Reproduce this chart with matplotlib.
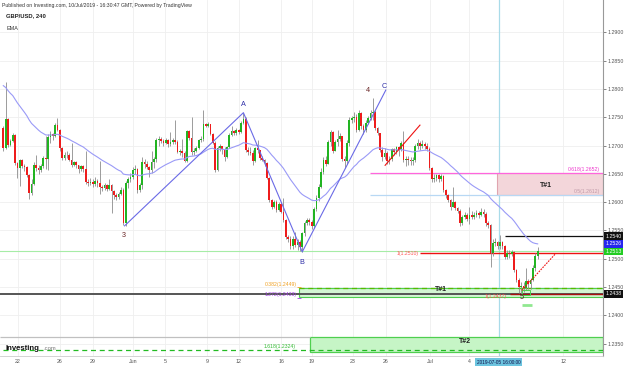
import numpy as np
import matplotlib
matplotlib.use("Agg")
import matplotlib.pyplot as plt
from matplotlib.patches import Rectangle

plt.rcParams['font.family'] = ['Liberation Sans', 'DejaVu Sans']

# ---------------- data ----------------
open0 = 1.2731
closes = [
    1.2696, 1.2746, 1.2701, 1.2708, 1.2719, 1.2669, 1.2660, 1.2674, 1.2664, 1.2662,
    1.2648, 1.2616, 1.2632, 1.2666, 1.2660, 1.2656, 1.2664, 1.2678, 1.2676, 1.2715,
    1.2720, 1.2716, 1.2736, 1.2728, 1.2695, 1.2678, 1.2684, 1.2683, 1.2675, 1.2666,
    1.2670, 1.2665, 1.2658, 1.2663, 1.2658, 1.2636, 1.2634, 1.2636, 1.2632, 1.2638, 1.2633, 1.2627, 1.2625,
    1.2630, 1.2624, 1.2631, 1.2620, 1.2612, 1.2609, 1.2614, 1.2622, 1.2563, 1.2634,
    1.2640, 1.2645, 1.2656, 1.2658, 1.2621, 1.2630, 1.2671, 1.2668, 1.2662, 1.2657,
    1.2670, 1.2676, 1.2710, 1.2712, 1.2708, 1.2705, 1.2709, 1.2702, 1.2706, 1.2710, 1.2706, 1.2689,
    1.2690, 1.2686, 1.2672, 1.2725, 1.2714, 1.2688, 1.2690, 1.2696, 1.2709, 1.2712,
    1.2738, 1.2735, 1.2738, 1.2720, 1.2705, 1.2657, 1.2696, 1.2699, 1.2693, 1.2680,
    1.2697, 1.2718, 1.2725, 1.2722, 1.2728, 1.2724, 1.2740, 1.2747, 1.2692, 1.2688,
    1.2687, 1.2672, 1.2696, 1.2692, 1.2678, 1.2675, 1.2669, 1.2643,
    1.2604, 1.2592, 1.2601, 1.2586, 1.2597, 1.2582, 1.2568, 1.2538, 1.2535, 1.2522,
    1.2535, 1.2524, 1.2530, 1.2520, 1.2545, 1.2563, 1.2568, 1.2565, 1.2557, 1.2588,
    1.2607, 1.2627, 1.2653, 1.2675, 1.2668, 1.2706, 1.2724, 1.2690, 1.2706,
    1.2712, 1.2717, 1.2676, 1.2672, 1.2705, 1.2745, 1.2748, 1.2750, 1.2728, 1.2757,
    1.2735, 1.2728, 1.2740, 1.2748, 1.2757, 1.2760, 1.2731, 1.2722, 1.2692, 1.2680,
    1.2687, 1.2672, 1.2676, 1.2693, 1.2688, 1.2697, 1.2692, 1.2704, 1.2674, 1.2677,
    1.2674, 1.2673, 1.2675, 1.2699, 1.2704, 1.2700, 1.2703, 1.2700, 1.2694,
    1.2660, 1.2640, 1.2643, 1.2647, 1.2641, 1.2646, 1.2622, 1.2612, 1.2604, 1.2591,
    1.2600, 1.2590, 1.2585, 1.2563, 1.2573, 1.2578, 1.2570, 1.2578, 1.2573, 1.2577,
    1.2580, 1.2578, 1.2582, 1.2579, 1.2563, 1.2559, 1.2510, 1.2527, 1.2530,
    1.2522, 1.2530, 1.2522, 1.2503, 1.2510, 1.2508, 1.2511, 1.2480, 1.2463,
    1.2450, 1.2452, 1.2448, 1.2460, 1.2455, 1.2462, 1.2484, 1.2505, 1.2513,
]
highs = [
    1.2735, 1.2812, 1.2748, 1.2712, 1.2722, 1.2721, 1.2670, 1.2676, 1.2676, 1.2668,
    1.2664, 1.2650, 1.2640, 1.2670, 1.2683, 1.2665, 1.2667, 1.2681, 1.2716, 1.2720,
    1.2725, 1.2722, 1.2740, 1.2749, 1.2730, 1.2697, 1.2688, 1.2690, 1.2686, 1.2705,
    1.2673, 1.2672, 1.2664, 1.2666, 1.2666, 1.2690, 1.2640, 1.2642, 1.2640, 1.2645, 1.2641, 1.2672, 1.2630,
    1.2633, 1.2632, 1.2640, 1.2632, 1.2622, 1.2616, 1.2618, 1.2626, 1.2625, 1.2637,
    1.2645, 1.2652, 1.2662, 1.2665, 1.2660, 1.2634, 1.2680, 1.2676, 1.2672, 1.2664,
    1.2690, 1.2680, 1.2714, 1.2716, 1.2715, 1.2712, 1.2714, 1.2712, 1.2724, 1.2713, 1.2745, 1.2710,
    1.2694, 1.2712, 1.2690, 1.2728, 1.2727, 1.2750, 1.2695, 1.2700, 1.2712, 1.2716,
    1.2762, 1.2740, 1.2742, 1.2738, 1.2722, 1.2708, 1.2700, 1.2702, 1.2700, 1.2698,
    1.2700, 1.2722, 1.2735, 1.2728, 1.2731, 1.2730, 1.2743, 1.2758, 1.2750, 1.2697,
    1.2697, 1.2692, 1.2698, 1.2710, 1.2692, 1.2682, 1.2676, 1.2670,
    1.2645, 1.2606, 1.2604, 1.2604, 1.2600, 1.2600, 1.2607, 1.2570, 1.2542, 1.2540,
    1.2540, 1.2548, 1.2535, 1.2533, 1.2548, 1.2566, 1.2572, 1.2572, 1.2568, 1.2592,
    1.2612, 1.2632, 1.2660, 1.2680, 1.2682, 1.2710, 1.2728, 1.2726, 1.2710,
    1.2727, 1.2722, 1.2712, 1.2682, 1.2710, 1.2750, 1.2752, 1.2760, 1.2756, 1.2762,
    1.2760, 1.2738, 1.2745, 1.2752, 1.2762, 1.2784, 1.2762, 1.2733, 1.2722, 1.2698,
    1.2695, 1.2690, 1.2682, 1.2696, 1.2696, 1.2700, 1.2700, 1.2708, 1.2725, 1.2682,
    1.2681, 1.2680, 1.2680, 1.2703, 1.2712, 1.2708, 1.2710, 1.2706, 1.2704,
    1.2697, 1.2662, 1.2650, 1.2650, 1.2650, 1.2650, 1.2648, 1.2624, 1.2614, 1.2606,
    1.2626, 1.2602, 1.2592, 1.2588, 1.2577, 1.2583, 1.2580, 1.2592, 1.2584, 1.2583,
    1.2586, 1.2584, 1.2590, 1.2588, 1.2582, 1.2566, 1.2562, 1.2535, 1.2536,
    1.2532, 1.2542, 1.2532, 1.2524, 1.2516, 1.2515, 1.2516, 1.2513, 1.2482,
    1.2466, 1.2458, 1.2458, 1.2484, 1.2465, 1.2466, 1.2488, 1.2510, 1.2521,
]
lows = [
    1.2690, 1.2694, 1.2698, 1.2700, 1.2706, 1.2666, 1.2643, 1.2628, 1.2660, 1.2655,
    1.2645, 1.2606, 1.2612, 1.2630, 1.2655, 1.2650, 1.2654, 1.2660, 1.2658, 1.2656,
    1.2705, 1.2710, 1.2715, 1.2725, 1.2690, 1.2674, 1.2675, 1.2678, 1.2672, 1.2662,
    1.2663, 1.2660, 1.2652, 1.2655, 1.2654, 1.2632, 1.2628, 1.2630, 1.2626, 1.2628, 1.2627, 1.2615, 1.2620,
    1.2622, 1.2620, 1.2622, 1.2580, 1.2606, 1.2604, 1.2605, 1.2612, 1.2559, 1.2558,
    1.2625, 1.2636, 1.2640, 1.2650, 1.2616, 1.2618, 1.2624, 1.2660, 1.2658, 1.2645,
    1.2652, 1.2660, 1.2670, 1.2700, 1.2704, 1.2700, 1.2702, 1.2698, 1.2700, 1.2702, 1.2702, 1.2686,
    1.2684, 1.2680, 1.2670, 1.2670, 1.2710, 1.2684, 1.2684, 1.2688, 1.2694, 1.2706,
    1.2708, 1.2732, 1.2733, 1.2718, 1.2702, 1.2654, 1.2655, 1.2690, 1.2685, 1.2672,
    1.2678, 1.2695, 1.2716, 1.2718, 1.2719, 1.2720, 1.2722, 1.2738, 1.2688, 1.2684,
    1.2683, 1.2666, 1.2670, 1.2686, 1.2675, 1.2672, 1.2664, 1.2640,
    1.2600, 1.2588, 1.2590, 1.2582, 1.2585, 1.2580, 1.2565, 1.2535, 1.2530, 1.2518,
    1.2518, 1.2520, 1.2516, 1.2514, 1.2512, 1.2540, 1.2560, 1.2560, 1.2553, 1.2554,
    1.2585, 1.2602, 1.2625, 1.2650, 1.2664, 1.2668, 1.2700, 1.2686, 1.2690,
    1.2700, 1.2708, 1.2672, 1.2660, 1.2668, 1.2700, 1.2740, 1.2742, 1.2724, 1.2725,
    1.2730, 1.2720, 1.2724, 1.2738, 1.2745, 1.2745, 1.2728, 1.2718, 1.2688, 1.2672,
    1.2676, 1.2668, 1.2668, 1.2672, 1.2683, 1.2685, 1.2682, 1.2690, 1.2670, 1.2664,
    1.2666, 1.2666, 1.2665, 1.2670, 1.2694, 1.2692, 1.2696, 1.2694, 1.2690,
    1.2656, 1.2636, 1.2636, 1.2638, 1.2636, 1.2638, 1.2618, 1.2608, 1.2600, 1.2586,
    1.2592, 1.2586, 1.2580, 1.2558, 1.2560, 1.2570, 1.2566, 1.2562, 1.2570, 1.2570,
    1.2574, 1.2572, 1.2576, 1.2574, 1.2558, 1.2555, 1.2485, 1.2505, 1.2522,
    1.2518, 1.2518, 1.2518, 1.2500, 1.2500, 1.2502, 1.2504, 1.2476, 1.2458,
    1.2440, 1.2437, 1.2442, 1.2444, 1.2446, 1.2446, 1.2460, 1.2478, 1.2500,
]
ema_seed = 1.2812
ema_length = 36

price_ticks = [1.2350, 1.2400, 1.2450, 1.2500, 1.2550, 1.2600, 1.2650,
               1.2700, 1.2750, 1.2800, 1.2850, 1.2900]
date_labels = ["22", "26", "29", "Jun", "5", "9", "12", "16", "19", "23",
               "26", "Jul", "4", "12"]
date_pos = [6.2, 24.1, 38.1, 55.1, 68.7, 86.5, 100.1, 118.0, 131.1, 148.6,
            162.6, 181.3, 198.0, 237.8]

wave_idx = [51.5, 102, 127, 162.5]
wave_price = [1.2558, 1.2758, 1.2512, 1.2798]

fib_618 = 1.2652
fib_500 = 1.2612
fib_382 = 1.2449
fib_1272 = 1.2433
fib_1618 = 1.2339
ext_1a = 1.2510
ext_1b = 1.2437
level_black = 1.2540
level_low = 1.2438
last_price = 1.2513
ema_last = 1.2526

# ---------------- figure ----------------
W, H = 625, 367
fig = plt.figure(figsize=(W / 100, H / 100), dpi=100)
ax = fig.add_axes([0, 11 / H, 603 / W, 356 / H])

px_per_unit = 5660.0
y_top = 1.29 + 32.3 / px_per_unit
y_bot = 1.29 - (356 - 32.3) / px_per_unit
x_left = -3.3 / 2.354
x_right = (603 - 3.3) / 2.354
ax.set_xlim(x_left, x_right)
ax.set_ylim(y_bot, y_top)

# grid
for p in price_ticks:
    ax.axhline(p, color="#efefef", lw=0.6, zorder=0)
for d in date_pos:
    ax.axvline(d, color="#efefef", lw=0.6, zorder=0)

n = len(closes)
idx = np.arange(n)
c = np.array(closes)
o = np.array([open0] + closes[:-1])
h = np.maximum(np.array(highs), np.maximum(o, c))
l = np.minimum(np.array(lows), np.minimum(o, c))

# EMA
alpha = 2.0 / (ema_length + 1)
ema = []
e = ema_seed
for v in closes:
    e = e + alpha * (v - e)
    ema.append(e)

# vertical cursor line
cursor_idx = 210.6
ax.axvline(cursor_idx, color="#a9dbe9", lw=0.9, zorder=1)

# zones
ax.add_patch(Rectangle((209.7, fib_500), x_right - 209.7, fib_618 - fib_500,
                       facecolor="#f3d6da", edgecolor="#e0a5b0", lw=0.8, zorder=1))
ax.add_patch(Rectangle((125.6, fib_1272 - 0.0001), x_right - 125.6, fib_382 - fib_1272 + 0.0001,
                       facecolor="#d3f5d3", edgecolor="#4fcf4f", lw=0.8, zorder=1))
ax.add_patch(Rectangle((130.3, 1.2335), x_right - 130.3, 1.2362 - 1.2335,
                       facecolor="#c6f5c6", edgecolor="#4fcf4f", lw=0.9, zorder=1))
ax.add_patch(Rectangle((220.3, 1.2436), 3.4, 0.0009,
                       facecolor="none", edgecolor="#4fcf4f", lw=0.7, zorder=6))

# horizontal levels
ax.hlines(fib_618, 155.8, x_right, color="#ff66dd", lw=0.9, zorder=2)
ax.hlines(fib_500, 155.8, x_right, color="#b8d8f4", lw=0.9, zorder=2)
ax.axhline(last_price, color="#a6eca6", lw=0.8, zorder=2)
ax.hlines(ext_1a, 177, x_right, color="#ee1111", lw=1.0, zorder=3)
ax.hlines(level_black, 213.1, x_right, color="#111111", lw=0.9, zorder=3)
ax.axhline(level_low, color="#555555", lw=1.4, zorder=2)
ax.hlines(ext_1b, 215.2, x_right, color="#aa1111", lw=1.0, zorder=3)
ax.hlines(fib_382, 125.6, x_right, color="#55bb00", lw=0.9, ls=(0, (4, 3)), zorder=3)
ax.hlines(fib_1618, 0, x_right, color="#22bb22", lw=0.9, ls=(0, (4, 3)), zorder=3)
ax.hlines(1.2362, x_left, 130.3, color="#c0c0c0", lw=0.9, zorder=2)
ax.hlines(1.2418, 220.3, 224.6, color="#90e890", lw=2.0, zorder=3)

# candles
up = c >= o
wick_col = "#8c8c8c"
ax.vlines(idx, l, h, color=wick_col, lw=0.6, zorder=4)
body_h = np.where(np.abs(c - o) < 0.00006, 0.00006, np.abs(c - o))
body_b = np.minimum(o, c)
ax.bar(idx[up], body_h[up], bottom=body_b[up], width=0.72,
       color="#22b422", linewidth=0, zorder=5)
ax.bar(idx[~up], body_h[~up], bottom=body_b[~up], width=0.72,
       color="#ee1c1c", linewidth=0, zorder=5)

# EMA line
ax.plot(idx, ema, color="#9a9af7", lw=0.8, zorder=6)

# wave lines
ax.plot(wave_idx, wave_price, color="#6a6ae6", lw=0.8, zorder=7)
ax.plot([162.2, 177], [1.2665, 1.2736], color="#ee1111", lw=0.8, zorder=7)
ax.plot([220.3, 234.4], [1.2444, 1.2508], color="#ee1111", lw=0.8,
        ls=(0, (1.5, 1)), zorder=7)

# wave labels
lab_kw = dict(fontsize=5.2, ha="center", va="center", zorder=8)
ax.text(51.3, 1.2541, "3", color="#6b2626", **lab_kw)
ax.text(101.8, 1.2772, "A", color="#2e2ea8", **lab_kw)
ax.text(126.9, 1.2494, "B", color="#2e2ea8", **lab_kw)
ax.text(154.9, 1.2798, "4", color="#6b2626", **lab_kw)
ax.text(161.8, 1.2805, "C", color="#2e2ea8", **lab_kw)
ax.text(220.3, 1.2431, "5", color="#4a1818", **lab_kw)

# level text labels
small = dict(fontsize=3.7, zorder=8)
ax.text(253.5, fib_618 + 0.0001, "0.618(1.2652)", color="#ee33cc", ha="right", va="bottom", **small)
ax.text(253.5, fib_500 + 0.0002, "0.5(1.2612)", color="#c09aa8", ha="right", va="bottom", **small)
ax.text(230.5, 1.2630, "T#1", color="#222222", ha="center", va="center",
        fontsize=5, fontweight="bold", zorder=8)
ax.text(176.6, ext_1a, "1(1.2510)", color="#ff5555", ha="right", va="center", **small)
ax.text(124.5, fib_382 + 0.0001, "0.382(1.2449)", color="#f0a020", ha="right", va="bottom", **small)
ax.hlines(fib_382 + 0.0001, 124.8, 126.5, color="#f0a020", lw=0.6, zorder=8)
ax.text(124.5, fib_1272 - 0.00005, "1.272(1.2433)", color="#a040e0", ha="right", va="bottom", **small)
ax.hlines(fib_1272 - 0.0002, 124.8, 126.5, color="#a040e0", lw=0.6, zorder=8)
ax.text(186.0, 1.24455, "T#1", color="#222222", ha="center", va="center",
        fontsize=5, fontweight="bold", zorder=8)
ax.text(214.0, ext_1b - 0.0004, "1(1.2437)", color="#ff5555", ha="right", va="center", **small)
ax.text(196.0, 1.2354, "T#2", color="#222222", ha="center", va="center",
        fontsize=5, fontweight="bold", zorder=8)
ax.text(124.0, fib_1618 + 0.00015, "1.618(1.2324)", color="#33bb33", ha="right", va="bottom", **small)

# axes styling
for s in ["left", "top"]:
    ax.spines[s].set_visible(False)
ax.spines["right"].set_color("#999999")
ax.spines["right"].set_linewidth(0.8)
ax.spines["bottom"].set_color("#cccccc")
ax.spines["bottom"].set_linewidth(0.6)
ax.yaxis.tick_right()
ax.set_yticks(price_ticks)
ax.set_yticklabels([f"{p:.4f}" for p in price_ticks])
ax.tick_params(axis="y", labelsize=3.8, colors="#555555", length=2, width=0.5, pad=1.5)
ax.set_xticks(date_pos)
ax.set_xticklabels(date_labels)
ax.tick_params(axis="x", labelsize=3.8, colors="#555555", length=0, pad=2.5)

# right-side price tags
ytr = ax.get_yaxis_transform()
def tag(p, text, bg):
    ax.text(1.004, p, text, transform=ytr, fontsize=3.8, color="white",
            ha="left", va="center", zorder=10, clip_on=False,
            bbox=dict(boxstyle="square,pad=0.25", facecolor=bg, edgecolor="none"))
tag(level_black, "1.2540", "#111111")
tag(ema_last, "1.2526", "#2626ee")
tag(last_price, "1.2513", "#22cc22")
tag(level_low, "1.2438", "#111111")

# cursor date tag
ax.text(cursor_idx - 0.3, -0.018, "2019-07-05 16:00:00", transform=ax.get_xaxis_transform(),
        fontsize=3.4, color="#10104a", ha="center", va="center", clip_on=False, zorder=10,
        bbox=dict(boxstyle="square,pad=0.3", facecolor="#6cc4df", edgecolor="none"))

# header
fig.text(2 / W, 1 - 6 / H, "Published on Investing.com, 10/Jul/2019 - 16:30:47 GMT, Powered by TradingView",
         fontsize=3.7, color="#333333", ha="left", va="center")
fig.text(6 / W, 1 - 15.7 / H, "GBP/USD, 240", fontsize=4.2, fontweight="bold",
         color="#222222", ha="left", va="center")
fig.text(6.5 / W, 1 - 29 / H, "EMA", fontsize=3.9, color="#333333", ha="left", va="center")

# logo
fig.text(6 / W, 1 - 348 / H, "Investing", fontsize=5.6, fontweight="bold",
         color="#111111", ha="left", va="center", zorder=20)
fig.text(43.5 / W, 1 - 348.6 / H, ".com", fontsize=4.2, color="#777777",
         ha="left", va="center", zorder=20)

fig.savefig("out.png", dpi=100)
